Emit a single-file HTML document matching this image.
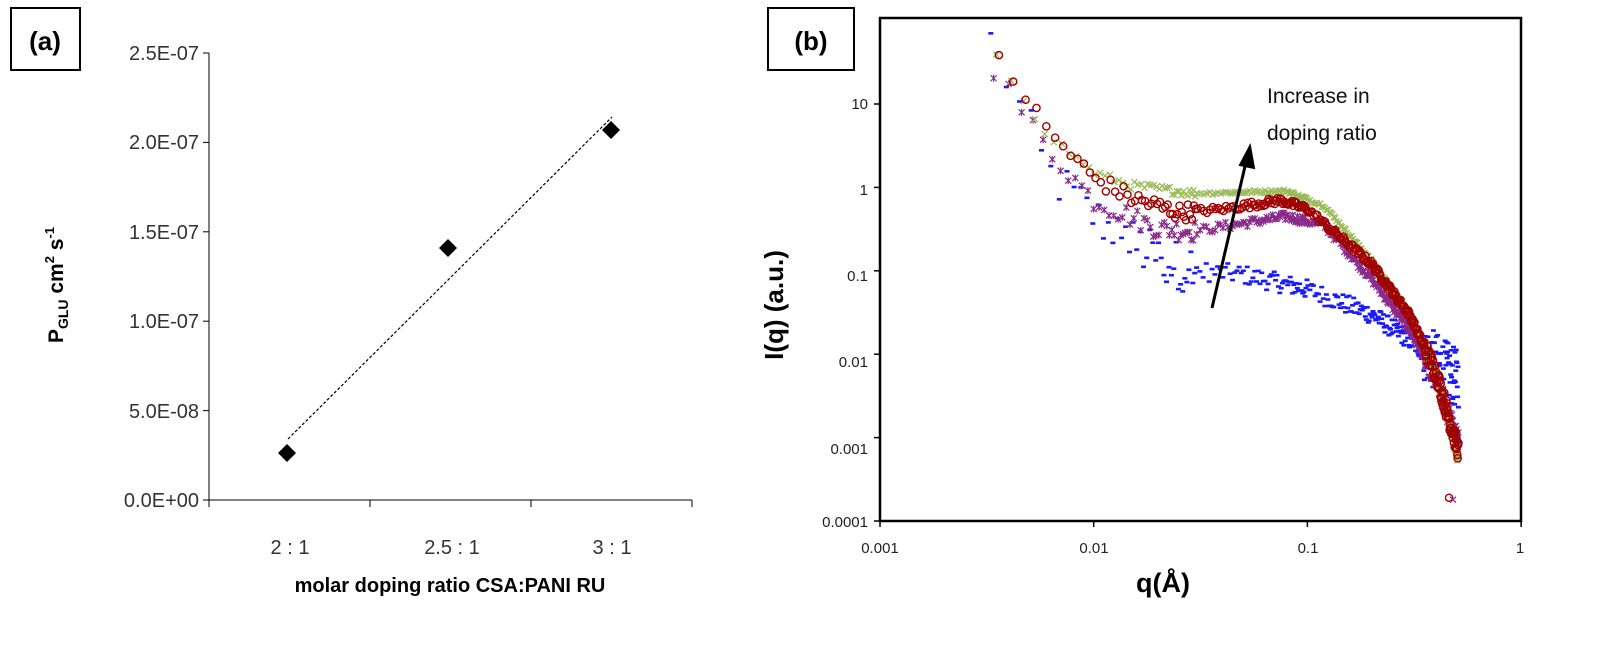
<!DOCTYPE html>
<html><head><meta charset="utf-8">
<style>
html,body{margin:0;padding:0;background:#fff;}
svg{display:block;font-family:"Liberation Sans",Arial,sans-serif;}
</style></head>
<body>
<svg id="s" width="1598" height="647" viewBox="0 0 1598 647" xmlns="http://www.w3.org/2000/svg">
<!-- Panel (a) -->
<rect x="11" y="8" width="69" height="62" fill="#fff" stroke="#000" stroke-width="2"/>
<text x="45" y="50" font-size="26" font-weight="bold" text-anchor="middle">(a)</text>
<line x1="209" y1="53" x2="209" y2="500" stroke="#000" stroke-width="1"/>
<line x1="209" y1="500" x2="692" y2="500" stroke="#000" stroke-width="1"/>
<g stroke="#000" stroke-width="1">
<line x1="203" y1="53" x2="209" y2="53"/><line x1="203" y1="142.4" x2="209" y2="142.4"/>
<line x1="203" y1="231.8" x2="209" y2="231.8"/><line x1="203" y1="321.2" x2="209" y2="321.2"/>
<line x1="203" y1="410.6" x2="209" y2="410.6"/><line x1="203" y1="500" x2="209" y2="500"/>
<line x1="209" y1="500" x2="209" y2="507"/><line x1="370" y1="500" x2="370" y2="507"/>
<line x1="531" y1="500" x2="531" y2="507"/><line x1="692" y1="500" x2="692" y2="507"/>
</g>
<g font-size="20" fill="#333" text-anchor="end">
<text x="199" y="60">2.5E-07</text><text x="199" y="149">2.0E-07</text>
<text x="199" y="239">1.5E-07</text><text x="199" y="328">1.0E-07</text>
<text x="199" y="418">5.0E-08</text><text x="199" y="507">0.0E+00</text>
</g>
<g font-size="20" fill="#333" text-anchor="middle">
<text x="290" y="554">2 : 1</text><text x="452" y="554">2.5 : 1</text><text x="612" y="554">3 : 1</text>
</g>
<text x="450" y="592" font-size="20" font-weight="bold" text-anchor="middle">molar doping ratio CSA:PANI RU</text>
<text transform="translate(63,285) rotate(-90)" font-size="21" font-weight="bold" text-anchor="middle">P<tspan font-size="14" dy="5">GLU</tspan><tspan dy="-5"> cm</tspan><tspan font-size="13" dy="-9">2</tspan><tspan dy="9"> s</tspan><tspan font-size="13" dy="-9">-1</tspan></text>
<line x1="288" y1="439" x2="612" y2="117" stroke="#000" stroke-width="1.2" stroke-dasharray="3,2"/>
<g fill="#000">
<polygon points="287,444 296,453 287,462 278,453"/>
<polygon points="448,239 457,248 448,257 439,248"/>
<polygon points="611,121 620,130 611,139 602,130"/>
</g>
<!-- Panel (b) -->
<rect x="768" y="8" width="86" height="62" fill="#fff" stroke="#000" stroke-width="2"/>
<text x="811" y="50" font-size="26" font-weight="bold" text-anchor="middle">(b)</text>
<rect x="880" y="18" width="641" height="503" fill="none" stroke="#000" stroke-width="2.5"/>
<g id="ticks" stroke="#000" stroke-width="1.5"></g>
<g font-size="15" fill="#222" text-anchor="end">
<text x="868" y="109">10</text><text x="868" y="195">1</text><text x="868" y="281">0.1</text>
<text x="868" y="367">0.01</text><text x="868" y="454">0.001</text><text x="868" y="527">0.0001</text>
</g>
<g font-size="15" fill="#222" text-anchor="middle">
<text x="880" y="553">0.001</text><text x="1094" y="553">0.01</text><text x="1308" y="553">0.1</text><text x="1520" y="553">1</text>
</g>
<text x="1163" y="592" font-size="27" font-weight="bold" text-anchor="middle">q(Å)</text>
<text transform="translate(783,305) rotate(-90)" font-size="26" font-weight="bold" text-anchor="middle">I(q) (a.u.)</text>
<g id="data"></g>
<line x1="1212" y1="308" x2="1246" y2="162" stroke="#000" stroke-width="3"/>
<polygon points="1250,146 1254,168 1240,165" fill="#000" stroke="#000" stroke-width="2"/>
<text x="1267" y="103" font-size="21" fill="#111">Increase in</text>
<text x="1267" y="140" font-size="21" fill="#111">doping ratio</text>
</svg>
<script>
(function(){
var NS="http://www.w3.org/2000/svg";
function X(q){return 880+(Math.log10(q)+3)*213.7;}
function Y(I){return 521-(Math.log10(I)+4)*83.4;}
var tk=document.getElementById('ticks');
function ln(a,b,c,d){var l=document.createElementNS(NS,'line');l.setAttribute('x1',a);l.setAttribute('y1',b);l.setAttribute('x2',c);l.setAttribute('y2',d);tk.appendChild(l);}
for(var k=0;k<6;k++){var y=521-k*83.4;ln(874,y,880,y);}
for(var k=0;k<4;k++){var x=880+k*213.7;ln(x,521,x,527);}
var seed=12345;function rnd(){seed=(seed*1103515245+12345)%2147483648;return seed/2147483648;}
function interp(pts,q){var lq=Math.log10(q);for(var i=0;i<pts.length-1;i++){var a=Math.log10(pts[i][0]),b=Math.log10(pts[i+1][0]);if(lq<=b||i==pts.length-2){var t=(lq-a)/(b-a);return Math.pow(10,Math.log10(pts[i][1])+t*(Math.log10(pts[i+1][1])-Math.log10(pts[i][1])));}}}
var S=[
{c:'#1a1aff',t:'dash',p:[[0.0035,40],[0.006,1.6],[0.01,0.45],[0.015,0.22],[0.02,0.14],[0.03,0.1],[0.05,0.09],[0.1,0.06],[0.2,0.03],[0.3,0.015],[0.4,0.008],[0.5,0.005]],j:0.12},
{c:'#8a2a8a',t:'star',p:[[0.0033,30],[0.006,3],[0.01,0.7],[0.02,0.32],[0.03,0.3],[0.08,0.45],[0.12,0.35],[0.2,0.08],[0.3,0.02],[0.4,0.005],[0.47,0.0015]],j:0.05},
{c:'#9bbb59',t:'x',p:[[0.0033,45],[0.006,4.5],[0.01,1.5],[0.015,1.05],[0.03,0.85],[0.08,0.9],[0.12,0.6],[0.2,0.13],[0.3,0.03],[0.4,0.006],[0.47,0.0012]],j:0.02},
{c:'#a00000',t:'o',p:[[0.0033,55],[0.006,5],[0.01,1.3],[0.015,0.75],[0.025,0.5],[0.04,0.55],[0.075,0.7],[0.1,0.55],[0.2,0.12],[0.3,0.03],[0.4,0.006],[0.5,0.0008]],j:0.04}
];
var h='';
S.forEach(function(s,si){
 var q=0.0033+si*0.0001;
 while(q<0.51){
  var I=interp(s.p,q);
  var j=s.j*(q<0.03?2.5:1)*(q>0.35?3:1);
  I*=Math.pow(10,(rnd()-0.5)*2*j);
  if(s.t=='dash'&&q>0.012&&q<0.035&&rnd()<0.15)I*=Math.pow(10,-(rnd()*0.5));
  var x=X(q),y=Y(I);
  if(s.t=='dash')h+='<rect x="'+(x-2.5).toFixed(1)+'" y="'+(y-1.3).toFixed(1)+'" width="5" height="2.6" fill="'+s.c+'"/>';
  else if(s.t=='o')h+='<circle cx="'+x.toFixed(1)+'" cy="'+y.toFixed(1)+'" r="3.6" fill="none" stroke="'+s.c+'" stroke-width="1.4"/>';
  else if(s.t=='x')h+='<path d="M'+(x-3)+' '+(y-3)+'l6 6M'+(x+3)+' '+(y-3)+'l-6 6" stroke="'+s.c+'" stroke-width="1.3"/>';
  else h+='<path d="M'+(x-3)+' '+(y-3)+'l6 6M'+(x+3)+' '+(y-3)+'l-6 6M'+x+' '+(y-3.5)+'v7" stroke="'+s.c+'" stroke-width="1.2"/>';
  q+= q<0.03?0.0006:(q<0.1?0.0011:0.002);
 }
});
h+='<circle cx="'+X(0.46)+'" cy="'+Y(0.00019)+'" r="3.6" fill="none" stroke="#a00000" stroke-width="1.4"/>';
h+='<path d="M'+(X(0.48)-3)+' '+(Y(0.00018)-3)+'l6 6M'+(X(0.48)+3)+' '+(Y(0.00018)-3)+'l-6 6" stroke="#8a2a8a" stroke-width="1.2"/>';
document.getElementById('data').innerHTML=h;
})();
</script>
</body></html>
